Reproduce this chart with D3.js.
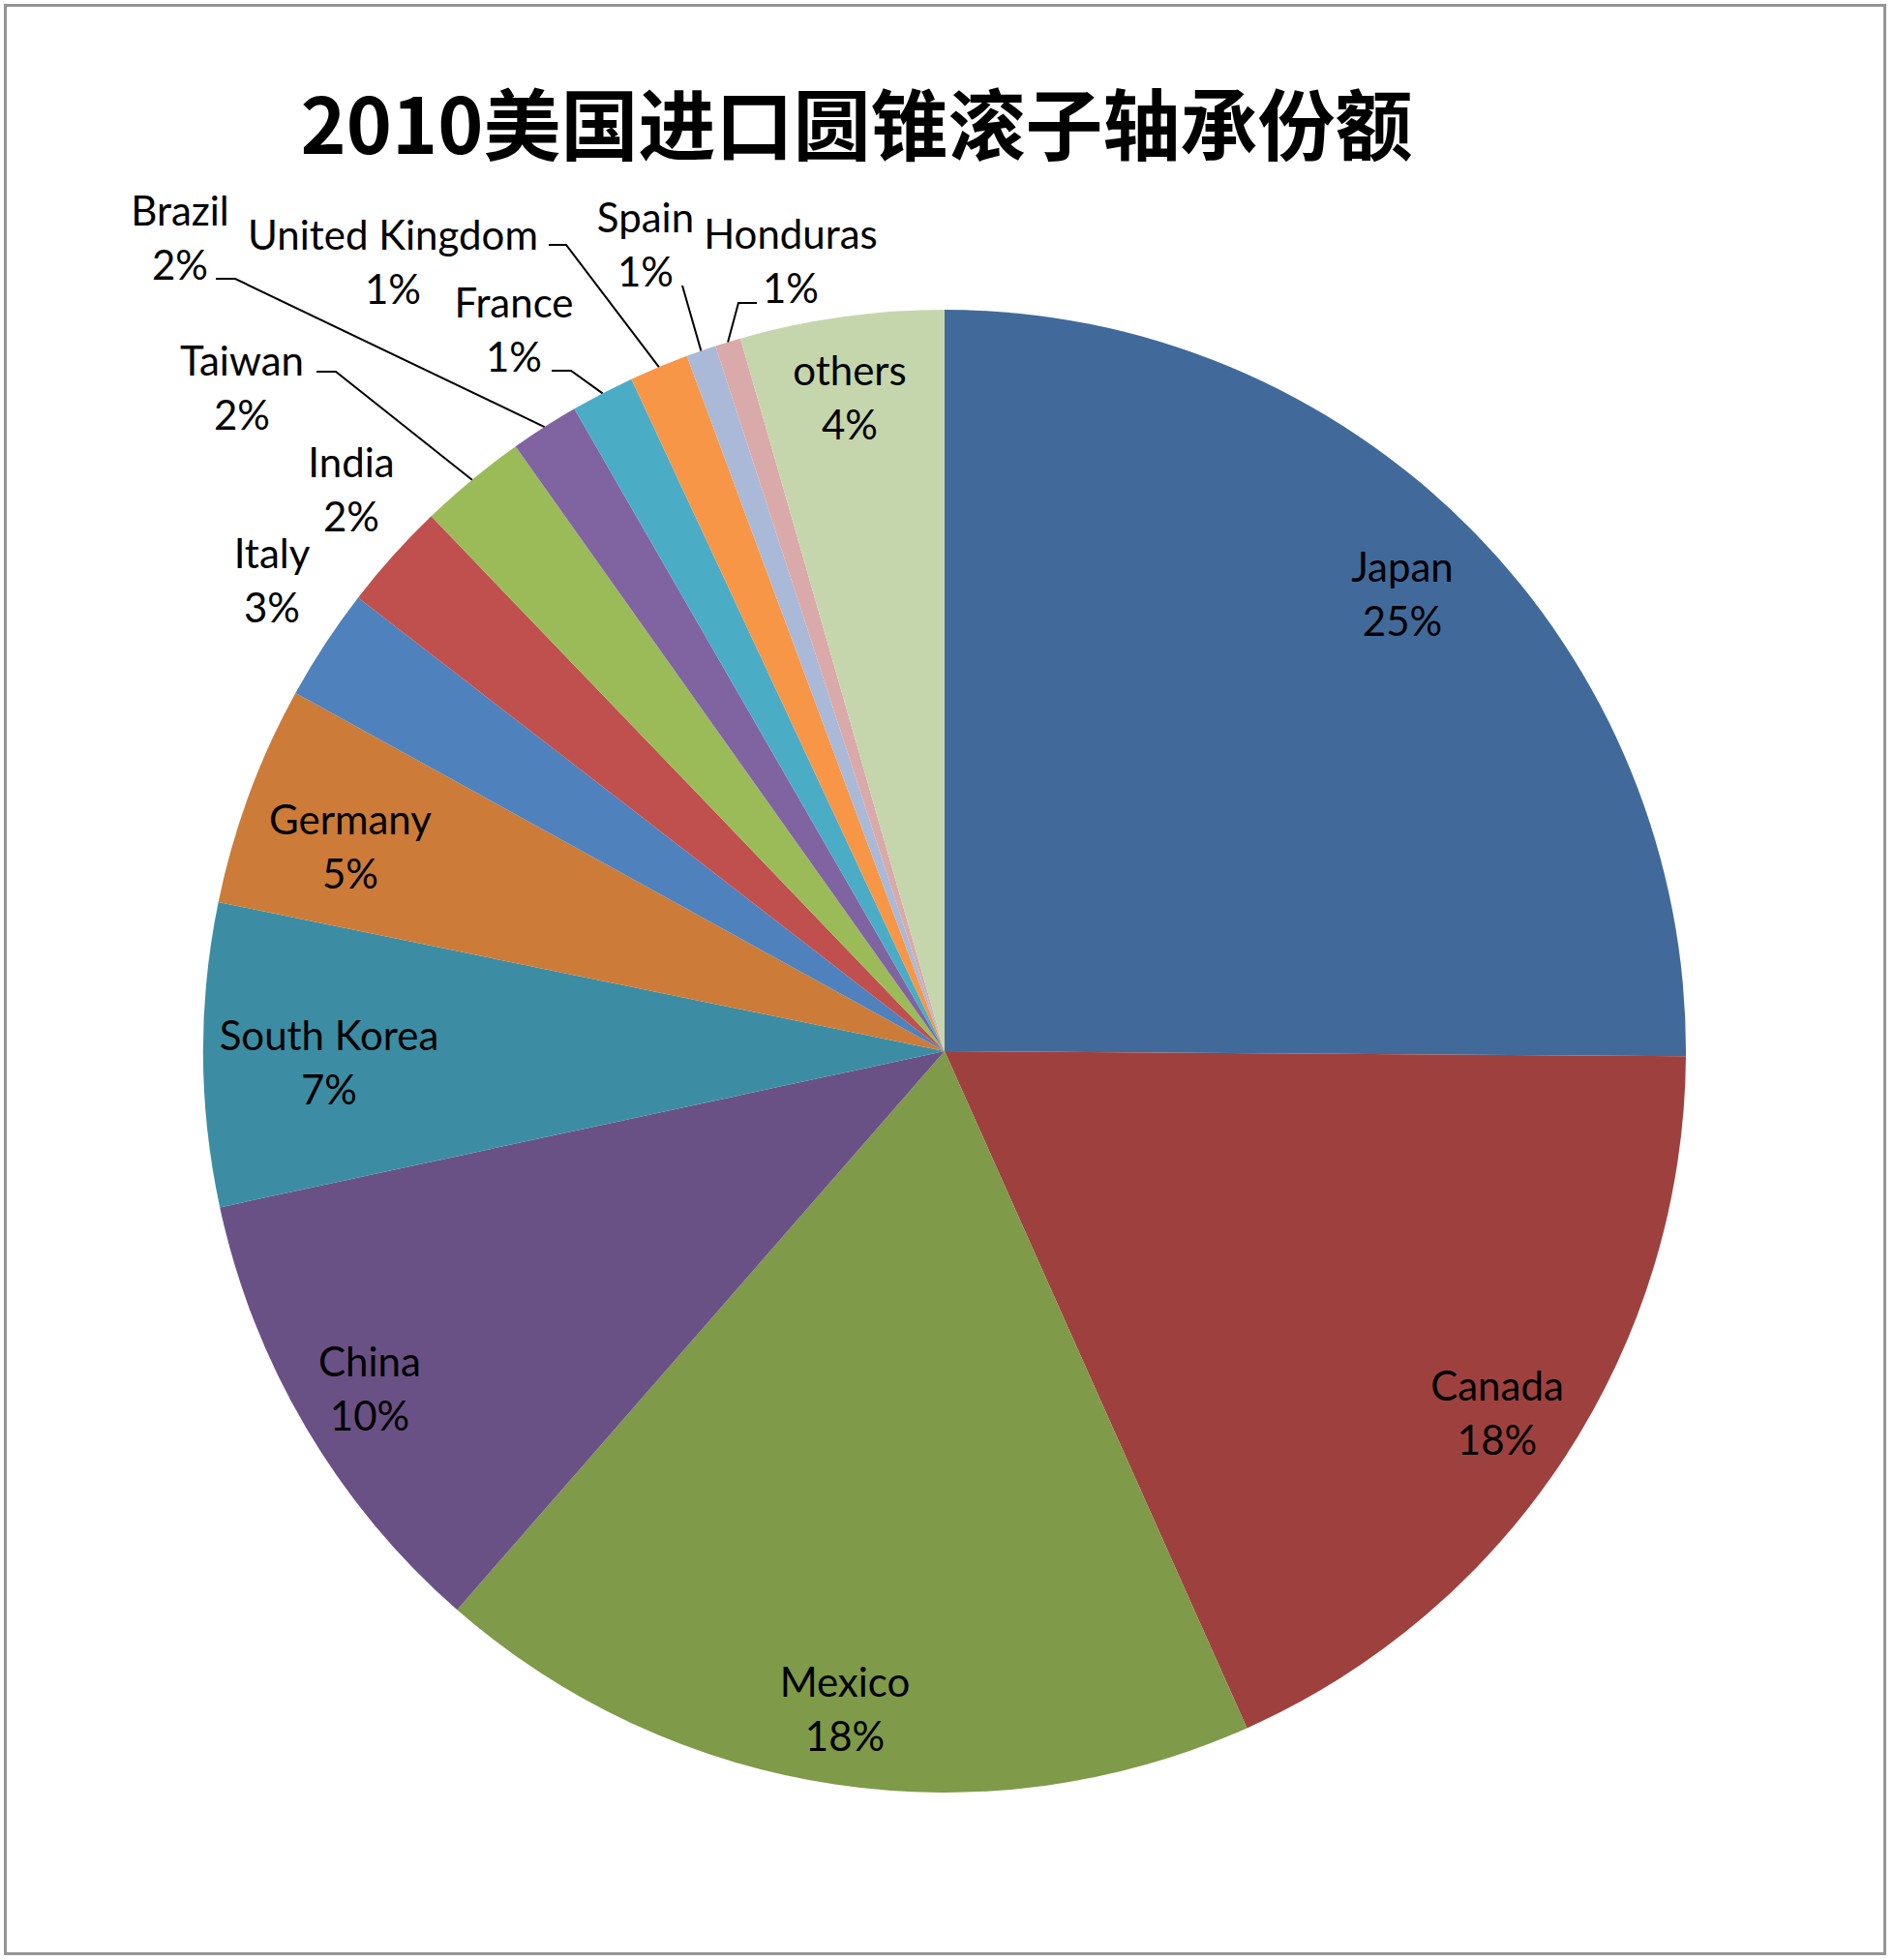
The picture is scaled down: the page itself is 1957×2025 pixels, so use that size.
<!DOCTYPE html>
<html>
<head>
<meta charset="utf-8">
<script src="https://cdn.jsdelivr.net/npm/d3@7/dist/d3.min.js"></script>
<style>
  html, body { margin: 0; padding: 0; background: #ffffff; }
  svg { display: block; }
</style>
</head>
<body>
<div id="chart"></div>
<script>
// ---------- data ----------
const titleText = "2010美国进口圆锥滚子轴承份额";
const categories = ["Japan", "Canada", "Mexico", "China", "South Korea", "Germany", "Italy",
                    "India", "Taiwan", "Brazil", "France", "United Kingdom", "Spain", "Honduras", "others"];
const shares = [25.1, 18.2, 18.1, 10.2, 6.6, 4.8, 2.45, 2.35, 2.35, 1.5, 1.38, 1.29, 0.65, 0.56, 4.44];
const percentLabels = ["25%", "18%", "18%", "10%", "7%", "5%", "3%", "2%", "2%", "2%", "1%", "1%", "1%", "1%", "4%"];

// ---------- styles / layout ----------
const colors = ["#416A9B", "#9E413E", "#7F9A48", "#695185", "#3C8DA3", "#CC7B38", "#4F81BD",
                "#C0504D", "#9BBB59", "#8064A2", "#4BACC6", "#F79646", "#AAB9D7", "#D9AAA9", "#C6D6AC"];
const W = 1957, H = 2025;
const cx = 976, cy = 1086, R = 766;
const lineGap = 56;
const labelFont = "Lato, 'Open Sans', sans-serif";
const labelSize = 42;

// label anchor (centre x, first baseline y) and optional leader (start point, elbow x)
const labelLayout = {
  "Japan":          {x: 1449, y: 601},
  "Canada":         {x: 1547, y: 1447},
  "Mexico":         {x: 873,  y: 1753},
  "China":          {x: 382,  y: 1422},
  "South Korea":    {x: 340,  y: 1085},
  "Germany":        {x: 362,  y: 862},
  "Italy":          {x: 281,  y: 587},
  "India":          {x: 363,  y: 493},
  "Taiwan":         {x: 250,  y: 388, leader: {sx: 327, sy: 384, ex: 347}},
  "Brazil":         {x: 186,  y: 233, leader: {sx: 223, sy: 288, ex: 243}},
  "France":         {x: 531,  y: 328, leader: {sx: 570, sy: 383, ex: 590}},
  "United Kingdom": {x: 406,  y: 258, leader: {sx: 567, sy: 253, ex: 585}},
  "Spain":          {x: 667,  y: 240, leader: {sx: 705, sy: 295, ex: 705}},
  "Honduras":       {x: 817,  y: 257, leader: {sx: 782, sy: 313, ex: 763}},
  "others":         {x: 878,  y: 398}
};

// ---------- drawing ----------
const svg = d3.select("#chart").append("svg")
  .attr("width", W).attr("height", H)
  .attr("viewBox", `0 0 ${W} ${H}`);

svg.append("rect")
  .attr("x", 0).attr("y", 0).attr("width", W).attr("height", H)
  .attr("fill", "#ffffff");

// outer frame
svg.append("rect")
  .attr("x", 5.5).attr("y", 5.5).attr("width", 1942).attr("height", 2013)
  .attr("fill", "none").attr("stroke", "#959595").attr("stroke-width", 3);

// title
svg.append("text")
  .attr("x", 885).attr("y", 159)
  .attr("text-anchor", "middle")
  .attr("font-family", "'Noto Sans CJK SC', sans-serif")
  .attr("font-weight", "bold")
  .attr("font-size", 80)
  .attr("fill", "#000")
  .text(titleText);

const data = categories.map((c, i) => ({name: c, value: shares[i], pct: percentLabels[i], color: colors[i]}));

const pie = d3.pie().value(d => d.value).sort(null);
const arcs = pie(data);

const arc = d3.arc().innerRadius(0).outerRadius(R);
const rimArc = d3.arc().innerRadius(R).outerRadius(R);

const g = svg.append("g").attr("transform", `translate(${cx},${cy})`);

g.selectAll("path.slice")
  .data(arcs)
  .join("path")
  .attr("class", "slice")
  .attr("d", arc)
  .attr("fill", d => d.data.color);

// leader lines
const leaders = svg.append("g").attr("fill", "none").attr("stroke", "#000").attr("stroke-width", 2);
arcs.forEach(d => {
  const L = labelLayout[d.data.name];
  if (!L || !L.leader) return;
  const [px, py] = rimArc.centroid(d);
  const pts = [[L.leader.sx, L.leader.sy], [L.leader.ex, L.leader.sy], [cx + px, cy + py]];
  leaders.append("path").attr("d", d3.line()(pts));
});

// labels
const labels = svg.append("g")
  .attr("font-family", labelFont)
  .attr("font-size", labelSize)
  .attr("fill", "#000")
  .attr("text-anchor", "middle");

arcs.forEach(d => {
  const L = labelLayout[d.data.name];
  const t = labels.append("text").attr("x", L.x).attr("y", L.y);
  t.append("tspan").attr("x", L.x).attr("y", L.y).text(d.data.name);
  t.append("tspan").attr("x", L.x).attr("y", L.y + lineGap).text(d.data.pct);
});
</script>
</body>
</html>
